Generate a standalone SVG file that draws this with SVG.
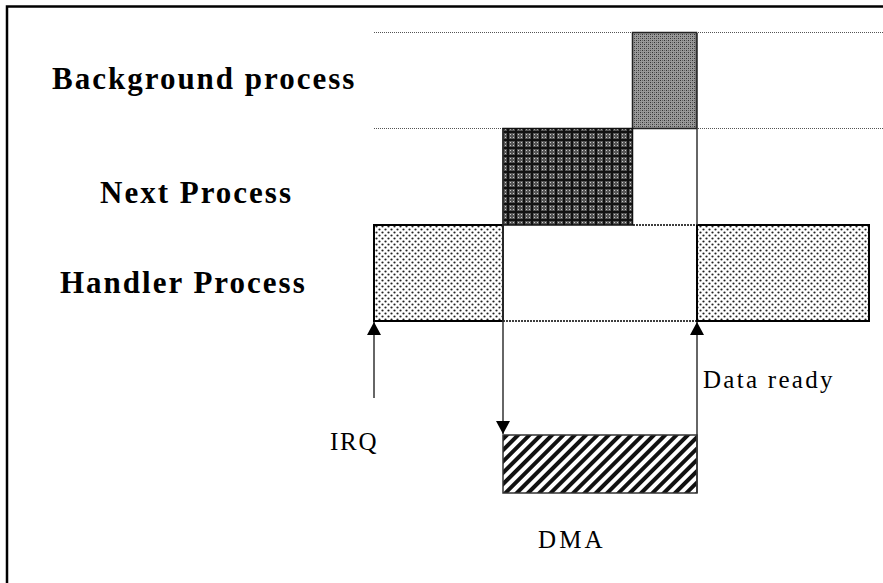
<svg xmlns="http://www.w3.org/2000/svg" width="883" height="583" viewBox="0 0 883 583">
<defs>
<style>
.lbl{font-family:"Liberation Serif","Times New Roman",serif;font-weight:bold;font-size:31px;letter-spacing:2px;fill:#000}
.sm{font-family:"Liberation Serif","Times New Roman",serif;font-size:25px;letter-spacing:2.5px;fill:#000}
.box{stroke:#000;stroke-width:2}
.dot{stroke:#000;stroke-width:1.5;stroke-dasharray:2 1;fill:none}
.thin{stroke:#555;stroke-width:1;stroke-dasharray:1 1;fill:none}
.ln{stroke:#333;stroke-width:1.5;fill:none}
</style>
<pattern id="pBg" width="4" height="4" patternUnits="userSpaceOnUse">
<rect width="4" height="4" fill="#999"/>
<rect width="1" height="1" fill="#333"/><rect x="2" y="2" width="1" height="1" fill="#333"/>
<rect x="2" y="0" width="1" height="1" fill="#666"/><rect x="0" y="2" width="1" height="1" fill="#666"/>
</pattern>
<pattern id="pNext" width="8" height="8" patternUnits="userSpaceOnUse">
<rect width="8" height="8" fill="#555"/>
<rect x="0" y="3" width="8" height="2" fill="#111"/><rect x="3" y="0" width="2" height="8" fill="#111"/>
<rect x="1" y="1" width="1" height="1" fill="#ccc"/><rect x="6" y="1" width="1" height="1" fill="#ccc"/>
<rect x="1" y="6" width="1" height="1" fill="#ccc"/><rect x="6" y="6" width="1" height="1" fill="#ccc"/>
</pattern>
<pattern id="pHand" width="6" height="6" patternUnits="userSpaceOnUse">
<rect width="6" height="6" fill="#fff"/>
<circle cx="1.5" cy="1.5" r="1.1" fill="#222"/><circle cx="4.5" cy="4.5" r="1.1" fill="#222"/>
</pattern>
<pattern id="pDma" width="8" height="8" patternUnits="userSpaceOnUse" patternTransform="rotate(-45)">
<rect width="8" height="8" fill="#fff"/>
<rect width="8" height="4" fill="#111"/>
</pattern>
<marker id="ah" markerWidth="14" markerHeight="14" refX="13" refY="7" orient="auto" markerUnits="userSpaceOnUse">
<path d="M0,0 L13,7 L0,14 Z" fill="#000"/>
</marker>
</defs>
<rect x="0" y="0" width="883" height="583" fill="#fff"/>
<path d="M7,583 V6.5 H883" stroke="#000" stroke-width="2.5" fill="none"/>

<g id="guides">
<line x1="374" y1="32.5" x2="883" y2="32.5" class="thin"/>
<line x1="374" y1="128.5" x2="883" y2="128.5" class="thin"/>
</g>

<g id="background">
<rect x="632.5" y="32.5" width="64" height="96" fill="url(#pBg)" stroke="#222" stroke-width="1.5"/>
<text class="lbl" x="52" y="89">Background process</text>
</g>

<g id="next">
<rect x="503" y="128.5" width="129.5" height="96.5" fill="url(#pNext)" stroke="#111" stroke-width="1.5"/>
<text class="lbl" x="100" y="203">Next Process</text>
</g>

<g id="handler">
<rect x="374" y="225" width="129" height="96" fill="url(#pHand)" class="box"/>
<rect x="697" y="225" width="172" height="96" fill="url(#pHand)" class="box"/>
<line x1="633" y1="225" x2="697" y2="225" class="dot"/>
<line x1="503" y1="321" x2="697" y2="321" class="dot"/>
<text class="lbl" x="60" y="293">Handler Process</text>
</g>

<g id="dma">
<rect x="503" y="435" width="194" height="58" fill="url(#pDma)" stroke="#333" stroke-width="1.5"/>
<text class="sm" x="538" y="548" textLength="67" lengthAdjust="spacing">DMA</text>
</g>

<g id="connectors">
<line x1="697" y1="33" x2="697" y2="225" class="ln"/>
<line x1="374" y1="398" x2="374" y2="322" class="ln" marker-end="url(#ah)"/>
<line x1="503" y1="129" x2="503" y2="434" class="ln" marker-end="url(#ah)"/>
<line x1="697" y1="493" x2="697" y2="322" class="ln" marker-end="url(#ah)"/>
<text class="sm" x="703" y="388" textLength="132" lengthAdjust="spacing">Data ready</text>
<text class="sm" x="330" y="450" textLength="49" lengthAdjust="spacing">IRQ</text>
</g>
</svg>
